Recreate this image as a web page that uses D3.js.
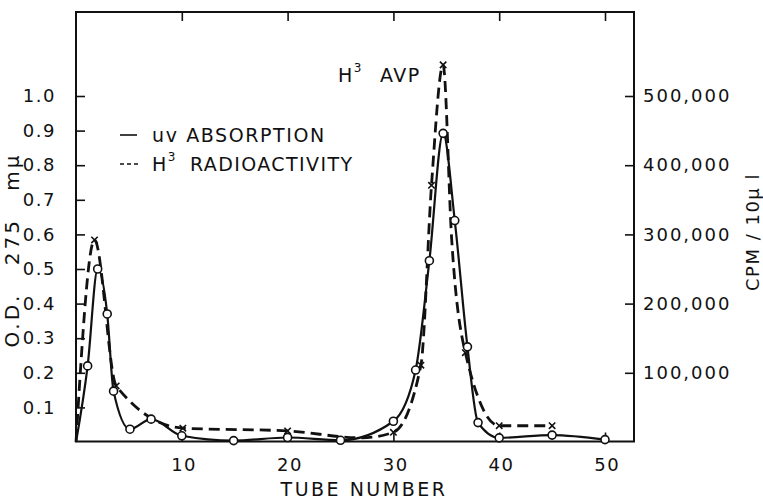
<!DOCTYPE html>
<html lang="en">
<head>
<meta charset="utf-8">
<title>Tube fractionation: uv absorption and H3 radioactivity</title>
<script src="https://d3js.org/d3.v7.min.js"></script>
<style>
  body { margin: 0; background: #fff; }
  svg text { font-family: "DejaVu Sans", sans-serif; fill: #111; }
  .axis text { font-size: 18px; letter-spacing: 1.5px; }
  .axis line { stroke: #111; stroke-width: 1.6; }
  .axis path { display: none; }
</style>
</head>
<body>
<script>
// uv absorption (O.D. 275 mμ), solid line with open circles
var uvTubes = [0, 1.1, 2.05, 2.95, 3.55, 5.1, 7.1, 10, 14.9, 20, 25, 30, 32.1, 33.4, 34.7, 35.8, 37, 38, 40, 45, 50];
var uvOD    = [0, 0.22, 0.50, 0.37, 0.147, 0.037, 0.066, 0.018, 0.004, 0.013, 0.005, 0.06, 0.208, 0.524, 0.892, 0.64, 0.275, 0.056, 0.012, 0.02, 0.007];

// H3 radioactivity (CPM / 10μl), dashed line with x marks
var radioTubes  = [0, 1.75, 3.8, 10.1, 20, 27, 30, 32.6, 33.6, 34.7, 35.5, 36.8, 40, 45];
var radioCpm    = [0, 292000, 81000, 20000, 16000, 6000, 14000, 111000, 371000, 545000, 295000, 129000, 23500, 23500];
var radioMarked = [false, true, true, true, true, false, true, true, true, true, false, true, true, true];

var tubeTicks = [10, 20, 30, 40, 50];
var odTicks   = [0.1, 0.2, 0.3, 0.4, 0.5, 0.6, 0.7, 0.8, 0.9, 1.0];
var cpmTicks  = [100000, 200000, 300000, 400000, 500000];

var W = 763, H = 501,
    frameL = 76, frameR = 634, frameT = 12, frameB = 441.5;

var x  = d3.scaleLinear().domain([0, 50]).range([frameL, 605]),
    y  = d3.scaleLinear().domain([0, 1]).range([442, 96]),
    yR = d3.scaleLinear().domain([0, 500000]).range([442, 96]);

var svg = d3.select("body").append("svg")
    .attr("width", W)
    .attr("height", H);

svg.append("rect").attr("width", W).attr("height", H).attr("fill", "#fff");

// frame
svg.append("rect")
    .attr("x", frameL).attr("y", frameT)
    .attr("width", frameR - frameL).attr("height", frameB - frameT)
    .attr("fill", "none").attr("stroke", "#111").attr("stroke-width", 2);

// axes, ticks pointing inward
svg.append("g").attr("class", "axis")
    .attr("transform", "translate(0," + frameB + ")")
    .call(d3.axisBottom(x).tickValues(tubeTicks).tickSizeInner(-9).tickSizeOuter(0).tickPadding(17))
    .selectAll("text").attr("dx", "0.1em");

svg.append("g").attr("class", "axis")
    .attr("transform", "translate(0," + frameT + ")")
    .call(d3.axisTop(x).tickValues(tubeTicks).tickSizeInner(-9).tickSizeOuter(0).tickFormat(""));

svg.append("g").attr("class", "axis")
    .attr("transform", "translate(" + frameL + ",0)")
    .call(d3.axisLeft(y).tickValues(odTicks).tickSizeInner(-9).tickSizeOuter(0).tickPadding(20).tickFormat(d3.format(".1f")));

svg.append("g").attr("class", "axis right")
    .attr("transform", "translate(" + frameR + ",0)")
    .call(d3.axisRight(yR).tickValues(cpmTicks).tickSizeInner(-9).tickSizeOuter(0).tickPadding(9).tickFormat(d3.format(",")));

svg.selectAll(".axis text").attr("font-family", null).attr("font-size", null);
svg.selectAll(".right text").style("letter-spacing", "2px");

// axis titles
svg.append("text")
    .attr("transform", "translate(19,250) rotate(-90)")
    .attr("text-anchor", "middle")
    .style("font-size", "20px").style("letter-spacing", "3px").style("word-spacing", "18px")
    .text("O.D. 275 mμ");

svg.append("text")
    .attr("transform", "translate(759,232) rotate(-90)")
    .attr("text-anchor", "middle")
    .style("font-size", "18px").style("letter-spacing", "1.5px")
    .text("CPM / 10μ l");

svg.append("text")
    .attr("x", 364).attr("y", 496)
    .attr("text-anchor", "middle")
    .style("font-size", "19px").style("letter-spacing", "2.5px")
    .text("TUBE NUMBER");

// data
var uv = uvTubes.map(function(t, i) { return { t: t, v: uvOD[i] }; });
var radio = radioTubes.map(function(t, i) { return { t: t, v: radioCpm[i], m: radioMarked[i] }; });

var uvLine = d3.line()
    .x(function(d) { return x(d.t); })
    .y(function(d) { return y(d.v); })
    .curve(d3.curveMonotoneX);

var radioLine = d3.line()
    .x(function(d) { return x(d.t); })
    .y(function(d) { return yR(d.v); })
    .curve(d3.curveMonotoneX);

svg.append("path")
    .datum(radio)
    .attr("d", radioLine)
    .attr("fill", "none")
    .attr("stroke", "#111")
    .attr("stroke-width", 2.8)
    .attr("stroke-dasharray", "11,6");

svg.append("path")
    .datum(uv)
    .attr("d", uvLine)
    .attr("fill", "none")
    .attr("stroke", "#111")
    .attr("stroke-width", 2.2);

// x marks
var s = 3.2;
svg.selectAll(".xmark")
    .data(radio.filter(function(d) { return d.m; }))
    .enter().append("path")
    .attr("class", "xmark")
    .attr("d", function(d) {
        var cx = x(d.t), cy = yR(d.v);
        return "M" + (cx - s) + "," + (cy - s) + "L" + (cx + s) + "," + (cy + s) +
               "M" + (cx + s) + "," + (cy - s) + "L" + (cx - s) + "," + (cy + s);
    })
    .attr("stroke", "#111")
    .attr("stroke-width", 1.6);

// open circles
svg.selectAll(".dot")
    .data(uv.filter(function(d) { return d.t > 0; }))
    .enter().append("circle")
    .attr("class", "dot")
    .attr("cx", function(d) { return x(d.t); })
    .attr("cy", function(d) { return y(d.v); })
    .attr("r", 4)
    .attr("fill", "#fff")
    .attr("stroke", "#111")
    .attr("stroke-width", 1.6);

// peak label
var peak = svg.append("text")
    .attr("x", 338).attr("y", 82)
    .style("font-size", "19px").style("letter-spacing", "1.5px");
peak.append("tspan").text("H");
peak.append("tspan").attr("dy", -10).style("font-size", "12px").text("3");
peak.append("tspan").attr("x", 380).attr("dy", 10).text("AVP");

// legend
var legend = svg.append("g");
legend.append("line")
    .attr("x1", 120).attr("x2", 137).attr("y1", 135).attr("y2", 135)
    .attr("stroke", "#111").attr("stroke-width", 1.6);
legend.append("line")
    .attr("x1", 120).attr("x2", 138).attr("y1", 164).attr("y2", 164)
    .attr("stroke", "#111").attr("stroke-width", 1.6)
    .attr("stroke-dasharray", "4,3");

legend.append("text")
    .attr("x", 152).attr("y", 141.5)
    .style("font-size", "19px").style("letter-spacing", "1.6px")
    .text("uv ABSORPTION");

var l2 = legend.append("text")
    .attr("x", 152).attr("y", 170.5)
    .style("font-size", "19px").style("letter-spacing", "1.4px");
l2.append("tspan").text("H");
l2.append("tspan").attr("dy", -10).style("font-size", "12px").text("3");
l2.append("tspan").attr("x", 190).attr("dy", 10).text("RADIOACTIVITY");
</script>
</body>
</html>
